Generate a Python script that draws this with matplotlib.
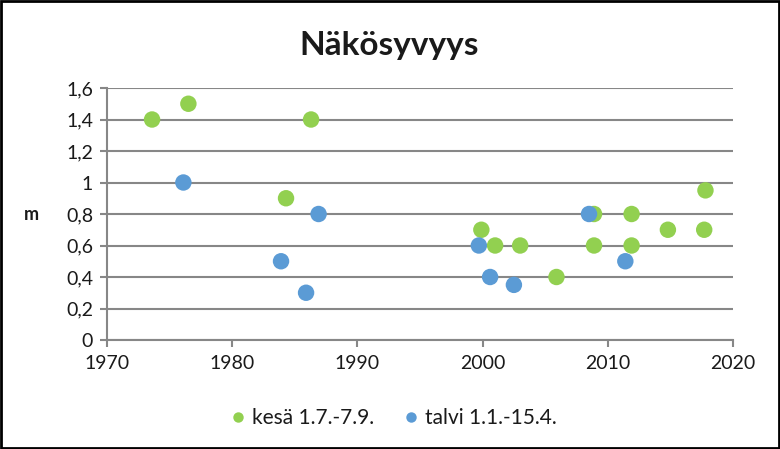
import matplotlib
matplotlib.use("Agg")
import matplotlib.pyplot as plt
from matplotlib.patches import Rectangle
from matplotlib.lines import Line2D

plt.rcParams['font.family'] = ['Lato', 'DejaVu Sans']

title = "Näkösyvyys"
ylabel = "m"
summer_label = "kesä 1.7.-7.9."
winter_label = "talvi 1.1.-15.4."

summer_years = [1973.6, 1976.5, 1984.3, 1986.3, 1999.9, 2001.0, 2003.0, 2005.9,
                2008.9, 2008.9, 2011.9, 2011.9, 2014.8, 2017.8, 2017.7]
summer_vals = [1.4, 1.5, 0.9, 1.4, 0.7, 0.6, 0.6, 0.4,
               0.8, 0.6, 0.8, 0.6, 0.7, 0.95, 0.7]

winter_years = [1976.1, 1983.9, 1985.9, 1986.9, 1999.7, 2000.6, 2002.5, 2008.5, 2011.4]
winter_vals = [1.0, 0.5, 0.3, 0.8, 0.6, 0.4, 0.35, 0.8, 0.5]

xticks = [1970, 1980, 1990, 2000, 2010, 2020]
yticks = [0, 0.2, 0.4, 0.6, 0.8, 1.0, 1.2, 1.4, 1.6]
yticklabels = ["0", "0,2", "0,4", "0,6", "0,8", "1", "1,2", "1,4", "1,6"]

green = "#92D050"
blue = "#5B9BD5"
grid_c = "#878787"
text_c = "#1a1a1a"

fig = plt.figure(figsize=(7.8, 4.49), dpi=100)
ax = fig.add_axes([107/780, 1-340/449, (733-107)/780, (340-88)/449])

ax.scatter(summer_years, summer_vals, s=140, color=green, edgecolors='none', zorder=3, clip_on=False)
ax.scatter(winter_years, winter_vals, s=140, color=blue, edgecolors='none', zorder=4, clip_on=False)

ax.set_xlim(1970, 2020)
ax.set_ylim(0, 1.6)
ax.set_xticks(xticks)
ax.set_xticklabels([str(x) for x in xticks], fontsize=14, color=text_c)
ax.set_yticks(yticks)
ax.set_yticklabels(yticklabels, fontsize=14, color=text_c)
ax.yaxis.grid(True, color=grid_c, linewidth=1.5, zorder=0)
ax.set_axisbelow(True)
for s in ['top', 'right']:
    ax.spines[s].set_visible(False)
for s in ['left', 'bottom']:
    ax.spines[s].set_color(grid_c)
    ax.spines[s].set_linewidth(1.5)
ax.tick_params(axis='both', direction='out', length=5, width=1.5, color=grid_c)
ax.tick_params(axis='y', pad=5)
ax.tick_params(axis='x', pad=6)

fig.text(31/780, 1-215/449, ylabel, fontsize=13, fontweight='bold', ha='center', va='center', color=text_c)
fig.text(389/780, 1-45/449, title, fontsize=24, fontweight='bold', ha='center', va='center', color=text_c)

handles = [Line2D([], [], marker='o', linestyle='none', markersize=7.5, markerfacecolor=green, markeredgecolor='none'),
           Line2D([], [], marker='o', linestyle='none', markersize=7.5, markerfacecolor=blue, markeredgecolor='none')]
fig.legend(handles, [summer_label, winter_label], loc='center', bbox_to_anchor=(392/780, 1-418/449),
           ncol=2, frameon=False, fontsize=15, handletextpad=0.15, columnspacing=1.3, handlelength=1.0,
           labelcolor=text_c)

fig.patches.append(Rectangle((0.0015, 0.0025), 0.997, 0.995, transform=fig.transFigure,
                             fill=False, edgecolor='black', linewidth=2))

fig.savefig("out.png", dpi=100)
